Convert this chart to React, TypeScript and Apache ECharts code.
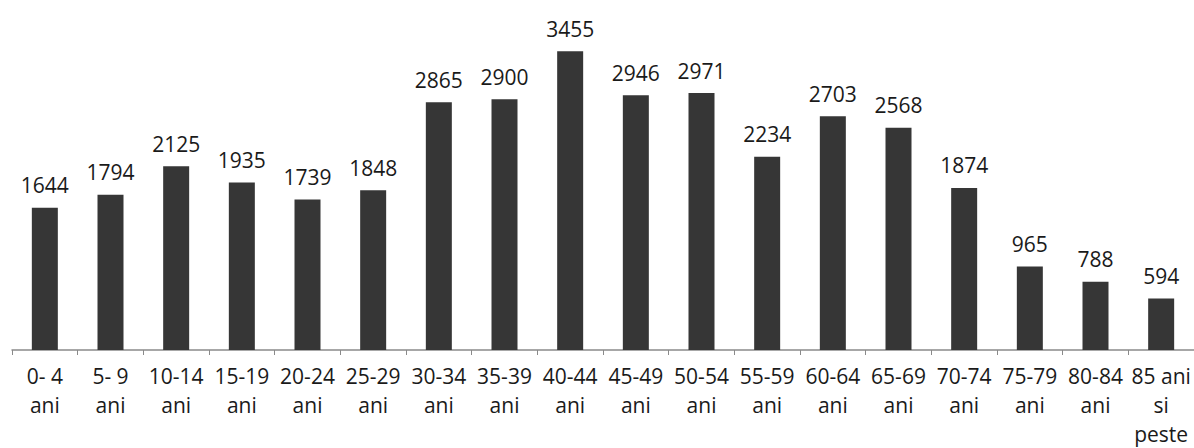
import React, { useEffect, useRef } from "react";
import * as echarts from "echarts";

const categories = [
  "0- 4\nani", "5- 9\nani", "10-14\nani", "15-19\nani", "20-24\nani", "25-29\nani",
  "30-34\nani", "35-39\nani", "40-44\nani", "45-49\nani", "50-54\nani", "55-59\nani",
  "60-64\nani", "65-69\nani", "70-74\nani", "75-79\nani", "80-84\nani", "85 ani\nsi\npeste",
];
const values = [1644, 1794, 2125, 1935, 1739, 1848, 2865, 2900, 3455, 2946, 2971, 2234, 2703, 2568, 1874, 965, 788, 594];

export default function App() {
  const ref = useRef<HTMLDivElement>(null);
  useEffect(() => {
    if (!ref.current) return;
    const chart = echarts.init(ref.current, null, { renderer: "svg" });
    chart.setOption({
      animation: false,
      backgroundColor: "#ffffff",
      grid: { left: 12, right: -6, top: 4, bottom: 98, containLabel: false },
      xAxis: {
        type: "category",
        data: categories,
        axisLine: { lineStyle: { color: "#8a8a8a", width: 1.5 } },
        axisTick: { show: true, length: 5, lineStyle: { color: "#8a8a8a" } },
        axisLabel: {
          interval: 0,
          margin: 11,
          color: "#1a1a1a",
          fontFamily: "Open Sans",
          fontSize: 21,
          lineHeight: 29,
        },
      },
      yAxis: {
        type: "value",
        min: 0,
        max: 4000,
        show: false,
        splitLine: { show: false },
      },
      series: [
        {
          type: "bar",
          data: values,
          barWidth: 26,
          itemStyle: { color: "#363636" },
          label: {
            show: true,
            position: "top",
            distance: 12,
            color: "#1a1a1a",
            fontFamily: "Open Sans",
            fontSize: 21,
          },
        },
      ],
    });
    return () => chart.dispose();
  }, []);
  return (
    <div
      ref={ref}
      style={{ position: "fixed", left: 0, top: 0, width: 1194, height: 448 }}
    />
  );
}
